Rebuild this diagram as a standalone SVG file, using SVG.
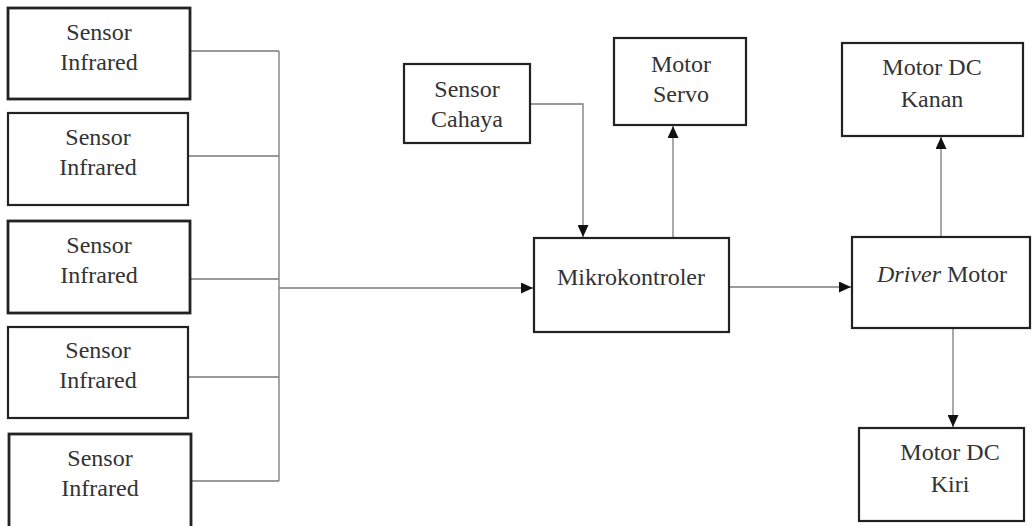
<svg xmlns="http://www.w3.org/2000/svg" width="1032" height="526" viewBox="0 0 1032 526">
<style>
.box{fill:#fff;stroke:#222;stroke-width:2.2}
.thick{stroke-width:2.8}
.t{font-family:"Liberation Serif","Times New Roman",serif;font-size:24px;fill:#333;text-anchor:middle}
.c{fill:none;stroke:#7a7a7a;stroke-width:1.3}
</style>
<defs>
<marker id="ah" viewBox="0 0 12 11" refX="12" refY="5.5" markerWidth="12" markerHeight="11" markerUnits="userSpaceOnUse" orient="auto">
<path d="M0,0 L12,5.5 L0,11 Z" fill="#111"/>
</marker>
</defs>
<rect width="1032" height="526" fill="#fff"/>
<g id="connectors">
<path class="c" d="M190,51 H279 M188,156 H279 M190,279 H279 M188,377 H279 M191,481 H279 M279,51 V481"/>
<path class="c" d="M279,288 H533" marker-end="url(#ah)"/>
<path class="c" d="M530,104 H583 V237" marker-end="url(#ah)"/>
<path class="c" d="M673,238 V126" marker-end="url(#ah)"/>
<path class="c" d="M729,287 H851" marker-end="url(#ah)"/>
<path class="c" d="M941,237 V137" marker-end="url(#ah)"/>
<path class="c" d="M953,328 V427" marker-end="url(#ah)"/>
</g>
<g id="ir1"><rect class="box thick" x="8" y="8" width="182" height="91"/><text class="t" x="99" y="40">Sensor</text><text class="t" x="99" y="70">Infrared</text></g>
<g id="ir2"><rect class="box" x="8" y="113" width="180" height="92"/><text class="t" x="98" y="145">Sensor</text><text class="t" x="98" y="175">Infrared</text></g>
<g id="ir3"><rect class="box thick" x="8" y="221" width="182" height="92"/><text class="t" x="99" y="253">Sensor</text><text class="t" x="99" y="283">Infrared</text></g>
<g id="ir4"><rect class="box" x="8" y="327" width="180" height="91"/><text class="t" x="98" y="358">Sensor</text><text class="t" x="98" y="388">Infrared</text></g>
<g id="ir5"><rect class="box thick" x="9" y="434" width="182" height="100"/><text class="t" x="100" y="466">Sensor</text><text class="t" x="100" y="496">Infrared</text></g>
<g id="cahaya"><rect class="box" x="404" y="64" width="126" height="79"/><text class="t" x="467" y="97">Sensor</text><text class="t" x="467" y="127">Cahaya</text></g>
<g id="servo"><rect class="box" x="614" y="38" width="132" height="87"/><text class="t" x="681" y="72">Motor</text><text class="t" x="681" y="102">Servo</text></g>
<g id="mikro"><rect class="box" x="534" y="238" width="195" height="94"/><text class="t" x="631" y="285">Mikrokontroler</text></g>
<g id="kanan"><rect class="box" x="842" y="43" width="181" height="93"/><text class="t" x="932" y="75">Motor DC</text><text class="t" x="932" y="107">Kanan</text></g>
<g id="driver"><rect class="box" x="852" y="237" width="178" height="91"/><text class="t" x="942" y="282"><tspan font-style="italic">Driver</tspan> Motor</text></g>
<g id="kiri"><rect class="box" x="859" y="428" width="165" height="93"/><text class="t" x="950" y="460">Motor DC</text><text class="t" x="950" y="492">Kiri</text></g>
</svg>
